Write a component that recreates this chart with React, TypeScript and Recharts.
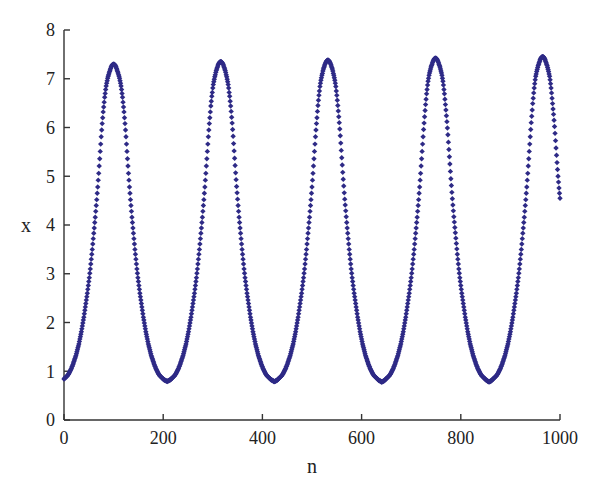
import { ScatterChart, Scatter, XAxis, YAxis } from 'recharts';

// x(n), one value per step n = 0..1000, split by half-wave
const rise1 = [
  0.84, 0.85, 0.86, 0.87, 0.88, 0.89, 0.90, 0.91, 0.93, 0.94,
  0.96, 0.98, 1.00, 1.02, 1.04, 1.06, 1.09, 1.11, 1.14, 1.17,
  1.20, 1.23, 1.26, 1.29, 1.32, 1.36, 1.40, 1.44, 1.48, 1.52,
  1.56, 1.61, 1.66, 1.71, 1.76, 1.81, 1.87, 1.93, 1.99, 2.05,
  2.11, 2.18, 2.25, 2.32, 2.39, 2.46, 2.53, 2.60, 2.68, 2.76,
  2.84, 2.92, 3.01, 3.10, 3.20, 3.30, 3.40, 3.50, 3.61, 3.72,
  3.83, 3.94, 4.05, 4.16, 4.28, 4.40, 4.52, 4.65, 4.78, 4.92,
  5.06, 5.21, 5.36, 5.51, 5.66, 5.81, 5.95, 6.08, 6.20, 6.32,
  6.42, 6.52, 6.62, 6.70, 6.78, 6.85, 6.91, 6.96, 7.01, 7.05,
  7.08, 7.12, 7.15, 7.18, 7.21, 7.24, 7.26, 7.28, 7.29, 7.30, 7.30,
];
const fall1 = [
  7.30, 7.29, 7.28, 7.26, 7.24, 7.21, 7.18, 7.15, 7.12, 7.08,
  7.05, 7.01, 6.96, 6.91, 6.85, 6.78, 6.70, 6.62, 6.52, 6.42,
  6.32, 6.20, 6.08, 5.95, 5.81, 5.66, 5.51, 5.36, 5.21, 5.06,
  4.92, 4.78, 4.65, 4.52, 4.40, 4.28, 4.16, 4.05, 3.94, 3.83,
  3.72, 3.61, 3.50, 3.40, 3.30, 3.20, 3.10, 3.01, 2.92, 2.84,
  2.76, 2.68, 2.60, 2.53, 2.46, 2.39, 2.32, 2.25, 2.18, 2.11,
  2.05, 1.99, 1.93, 1.87, 1.81, 1.76, 1.71, 1.66, 1.61, 1.56,
  1.52, 1.48, 1.44, 1.40, 1.36, 1.32, 1.29, 1.26, 1.23, 1.20,
  1.17, 1.14, 1.11, 1.09, 1.06, 1.04, 1.02, 1.00, 0.98, 0.96,
  0.94, 0.93, 0.91, 0.90, 0.89, 0.88, 0.87, 0.86, 0.85, 0.84,
  0.83, 0.82, 0.82, 0.81, 0.81, 0.80, 0.80, 0.79,
];
const rise2 = [
  0.80, 0.80, 0.81, 0.81, 0.82, 0.82, 0.83,
  0.84, 0.85, 0.86, 0.87, 0.88, 0.89, 0.90, 0.91, 0.93, 0.94,
  0.96, 0.98, 1.00, 1.02, 1.04, 1.06, 1.09, 1.11, 1.14, 1.17,
  1.20, 1.23, 1.26, 1.29, 1.32, 1.36, 1.40, 1.44, 1.48, 1.52,
  1.56, 1.61, 1.66, 1.71, 1.76, 1.81, 1.87, 1.93, 1.99, 2.05,
  2.11, 2.18, 2.25, 2.32, 2.39, 2.46, 2.53, 2.60, 2.68, 2.76,
  2.84, 2.92, 3.01, 3.10, 3.20, 3.30, 3.40, 3.50, 3.61, 3.72,
  3.83, 3.94, 4.05, 4.16, 4.28, 4.40, 4.52, 4.65, 4.78, 4.92,
  5.06, 5.21, 5.36, 5.51, 5.66, 5.81, 5.95, 6.08, 6.20, 6.32,
  6.44, 6.54, 6.64, 6.72, 6.81, 6.88, 6.94, 6.99, 7.04, 7.08,
  7.13, 7.17, 7.20, 7.23, 7.26, 7.29, 7.31, 7.33, 7.34, 7.35, 7.35,
];
const fall2 = [
  7.35, 7.34, 7.33, 7.31, 7.29, 7.26, 7.23, 7.20, 7.17, 7.13,
  7.08, 7.04, 6.99, 6.94, 6.88, 6.81, 6.72, 6.64, 6.54, 6.44,
  6.33, 6.21, 6.09, 5.96, 5.82, 5.67, 5.52, 5.37, 5.22, 5.07,
  4.93, 4.79, 4.66, 4.53, 4.40, 4.28, 4.16, 4.05, 3.94, 3.83,
  3.72, 3.61, 3.50, 3.40, 3.30, 3.20, 3.10, 3.01, 2.92, 2.84,
  2.76, 2.68, 2.60, 2.53, 2.46, 2.39, 2.32, 2.25, 2.18, 2.11,
  2.05, 1.99, 1.93, 1.87, 1.81, 1.76, 1.71, 1.66, 1.61, 1.56,
  1.52, 1.48, 1.44, 1.40, 1.36, 1.32, 1.29, 1.26, 1.23, 1.20,
  1.17, 1.14, 1.11, 1.09, 1.06, 1.04, 1.02, 1.00, 0.98, 0.96,
  0.94, 0.93, 0.91, 0.90, 0.89, 0.88, 0.87, 0.86, 0.85, 0.84,
  0.83, 0.82, 0.82, 0.81, 0.81, 0.80, 0.79, 0.79,
];
const rise3 = [
  0.79, 0.80, 0.80, 0.81, 0.81, 0.82, 0.83,
  0.84, 0.85, 0.86, 0.87, 0.88, 0.89, 0.90, 0.91, 0.93, 0.94,
  0.96, 0.98, 1.00, 1.02, 1.04, 1.06, 1.09, 1.11, 1.14, 1.17,
  1.20, 1.23, 1.26, 1.29, 1.32, 1.36, 1.40, 1.44, 1.48, 1.52,
  1.56, 1.61, 1.66, 1.71, 1.76, 1.81, 1.87, 1.93, 1.99, 2.05,
  2.11, 2.18, 2.25, 2.32, 2.39, 2.46, 2.53, 2.60, 2.68, 2.76,
  2.84, 2.92, 3.01, 3.10, 3.20, 3.30, 3.40, 3.50, 3.61, 3.72,
  3.83, 3.94, 4.05, 4.16, 4.28, 4.40, 4.52, 4.65, 4.78, 4.92,
  5.06, 5.21, 5.36, 5.51, 5.66, 5.81, 5.95, 6.08, 6.20, 6.33,
  6.45, 6.56, 6.66, 6.75, 6.84, 6.91, 6.97, 7.02, 7.07, 7.11,
  7.16, 7.20, 7.23, 7.26, 7.29, 7.32, 7.34, 7.36, 7.37, 7.38, 7.38,
];
const fall3 = [
  7.38, 7.37, 7.36, 7.34, 7.32, 7.29, 7.26, 7.23, 7.20, 7.16,
  7.11, 7.07, 7.02, 6.97, 6.91, 6.84, 6.75, 6.66, 6.56, 6.45,
  6.34, 6.22, 6.10, 5.97, 5.83, 5.68, 5.53, 5.38, 5.23, 5.08,
  4.94, 4.80, 4.66, 4.53, 4.41, 4.29, 4.17, 4.05, 3.94, 3.83,
  3.72, 3.61, 3.50, 3.40, 3.30, 3.20, 3.10, 3.01, 2.92, 2.84,
  2.76, 2.68, 2.60, 2.53, 2.46, 2.39, 2.32, 2.25, 2.18, 2.11,
  2.05, 1.99, 1.93, 1.87, 1.81, 1.76, 1.71, 1.66, 1.61, 1.56,
  1.52, 1.48, 1.44, 1.40, 1.36, 1.32, 1.29, 1.26, 1.23, 1.20,
  1.17, 1.14, 1.11, 1.09, 1.06, 1.04, 1.02, 1.00, 0.98, 0.96,
  0.94, 0.93, 0.91, 0.90, 0.89, 0.88, 0.87, 0.86, 0.85, 0.84,
  0.83, 0.82, 0.81, 0.81, 0.80, 0.80, 0.79, 0.78,
];
const rise4 = [
  0.78, 0.79, 0.79, 0.80, 0.80, 0.81, 0.82, 0.83,
  0.84, 0.85, 0.86, 0.87, 0.88, 0.89, 0.90, 0.91, 0.93, 0.94,
  0.96, 0.98, 1.00, 1.02, 1.04, 1.06, 1.09, 1.11, 1.14, 1.17,
  1.20, 1.23, 1.26, 1.29, 1.32, 1.36, 1.40, 1.44, 1.48, 1.52,
  1.56, 1.61, 1.66, 1.71, 1.76, 1.81, 1.87, 1.93, 1.99, 2.05,
  2.11, 2.18, 2.25, 2.32, 2.39, 2.46, 2.53, 2.60, 2.68, 2.76,
  2.84, 2.92, 3.01, 3.10, 3.20, 3.30, 3.40, 3.50, 3.61, 3.72,
  3.83, 3.94, 4.05, 4.16, 4.28, 4.40, 4.52, 4.65, 4.78, 4.92,
  5.06, 5.21, 5.36, 5.51, 5.66, 5.81, 5.96, 6.09, 6.22, 6.35,
  6.47, 6.58, 6.69, 6.78, 6.87, 6.95, 7.01, 7.07, 7.12, 7.16,
  7.20, 7.24, 7.27, 7.30, 7.33, 7.36, 7.38, 7.40, 7.41, 7.42, 7.42,
];
const fall4 = [
  7.42, 7.41, 7.40, 7.38, 7.36, 7.33, 7.30, 7.27, 7.24, 7.20,
  7.16, 7.12, 7.07, 7.01, 6.95, 6.87, 6.78, 6.69, 6.58, 6.47,
  6.36, 6.24, 6.12, 5.99, 5.85, 5.70, 5.55, 5.40, 5.25, 5.10,
  4.95, 4.81, 4.67, 4.54, 4.41, 4.29, 4.17, 4.06, 3.95, 3.84,
  3.73, 3.62, 3.51, 3.40, 3.30, 3.20, 3.10, 3.01, 2.92, 2.84,
  2.76, 2.68, 2.60, 2.53, 2.46, 2.39, 2.32, 2.25, 2.18, 2.11,
  2.05, 1.99, 1.93, 1.87, 1.81, 1.76, 1.71, 1.66, 1.61, 1.56,
  1.52, 1.48, 1.44, 1.40, 1.36, 1.32, 1.29, 1.26, 1.23, 1.20,
  1.17, 1.14, 1.11, 1.09, 1.06, 1.04, 1.02, 1.00, 0.98, 0.96,
  0.94, 0.93, 0.91, 0.90, 0.89, 0.88, 0.87, 0.86, 0.85, 0.84,
  0.83, 0.82, 0.81, 0.81, 0.80, 0.79, 0.79, 0.78,
];
const rise5 = [
  0.79, 0.79, 0.80, 0.80, 0.81, 0.82, 0.83,
  0.84, 0.85, 0.86, 0.87, 0.88, 0.89, 0.90, 0.91, 0.93, 0.94,
  0.96, 0.98, 1.00, 1.02, 1.04, 1.06, 1.09, 1.11, 1.14, 1.17,
  1.20, 1.23, 1.26, 1.29, 1.32, 1.36, 1.40, 1.44, 1.48, 1.52,
  1.56, 1.61, 1.66, 1.71, 1.76, 1.81, 1.87, 1.93, 1.99, 2.05,
  2.11, 2.18, 2.25, 2.32, 2.39, 2.46, 2.53, 2.60, 2.68, 2.76,
  2.84, 2.92, 3.01, 3.10, 3.20, 3.30, 3.40, 3.50, 3.61, 3.72,
  3.83, 3.94, 4.05, 4.16, 4.28, 4.40, 4.52, 4.65, 4.78, 4.92,
  5.06, 5.21, 5.36, 5.51, 5.66, 5.81, 5.96, 6.10, 6.23, 6.36,
  6.49, 6.60, 6.71, 6.81, 6.90, 6.98, 7.05, 7.10, 7.15, 7.19,
  7.23, 7.27, 7.30, 7.33, 7.36, 7.39, 7.41, 7.43, 7.44, 7.45, 7.45,
];
const fall5 = [
  7.45, 7.44, 7.43, 7.41, 7.39, 7.36, 7.33, 7.30, 7.27, 7.23,
  7.19, 7.15, 7.10, 7.05, 6.98, 6.90, 6.81, 6.71, 6.60, 6.49,
  6.38, 6.27, 6.15, 6.02, 5.88, 5.73, 5.58, 5.43, 5.28, 5.14,
  5.00, 4.88, 4.76, 4.65, 4.55,
];

const N_TICKS = [0, 200, 400, 600, 800, 1000];
const X_TICKS = [0, 1, 2, 3, 4, 5, 6, 7, 8];

const xValues = [rise1, fall1, rise2, fall2, rise3, fall3, rise4, fall4, rise5, fall5].flat();
const data = xValues.map((x, n) => ({ n, x }));

const MARK = '#2e2a86';
const AXIS = '#333';
const FONT = '"Liberation Serif", "DejaVu Serif", serif';

function Diamond(props: any) {
  const { cx, cy } = props;
  const r = 2.7;
  return (
    <path
      d={`M${cx},${cy - r}L${cx + r},${cy}L${cx},${cy + r}L${cx - r},${cy}Z`}
      fill={MARK}
    />
  );
}

export default function App() {
  return (
    <div style={{ position: 'absolute', left: 0, top: 0 }}>
      <ScatterChart
        width={600}
        height={494}
        margin={{ top: 30, right: 40, bottom: 14, left: 0 }}
      >
        <XAxis
          dataKey="n"
          type="number"
          domain={[0, 1000]}
          ticks={N_TICKS}
          height={60}
          stroke={AXIS}
          strokeWidth={1.4}
          tickSize={-6}
          tickMargin={17}
          tick={{ fill: '#222', fontSize: 18, fontFamily: FONT }}
          label={{
            value: 'n',
            position: 'insideBottom',
            offset: 7,
            fill: '#222',
            fontSize: 20,
            fontFamily: FONT,
          }}
        />
        <YAxis
          dataKey="x"
          type="number"
          domain={[0, 8]}
          ticks={X_TICKS}
          width={64}
          stroke={AXIS}
          strokeWidth={1.4}
          tickSize={-6}
          tickMargin={15}
          tick={{ fill: '#222', fontSize: 18, fontFamily: FONT }}
          label={{
            value: 'x',
            position: 'insideLeft',
            offset: 21,
            fill: '#222',
            fontSize: 20,
            fontFamily: FONT,
          }}
        />
        <Scatter
          data={data}
          shape={Diamond}
          fill={MARK}
          isAnimationActive={false}
        />
      </ScatterChart>
    </div>
  );
}
